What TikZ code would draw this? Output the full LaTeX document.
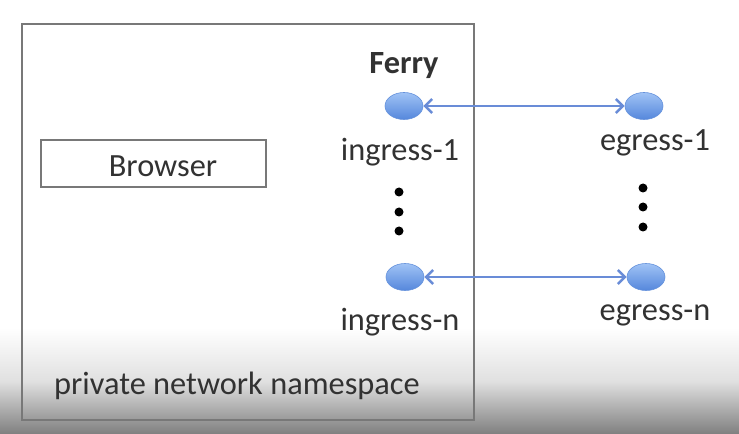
\documentclass[tikz,border=0pt]{standalone}
\usepackage{fontspec}
\setmainfont{Carlito}
\usetikzlibrary{shapes.geometric,arrows.meta}
\definecolor{boxgray}{RGB}{120,120,120}
\definecolor{txtgray}{RGB}{50,50,50}
\definecolor{blueA}{RGB}{160,195,245}
\definecolor{blueB}{RGB}{85,135,220}
\definecolor{blueEdge}{RGB}{100,145,220}
\definecolor{arrowblue}{RGB}{105,140,215}
\tikzset{
  lbl/.style={text=txtgray, font=\fontsize{32.5}{38}\selectfont, inner sep=0pt},
  port/.style={ellipse, draw=blueEdge, line width=0.6bp, top color=blueA, bottom color=blueB,
    minimum width=38bp, minimum height=27bp, inner sep=0pt},
  link/.style={draw=arrowblue, line width=2.6bp, {Straight Barb[length=7bp,width=14bp,line width=2.6bp]}-{Straight Barb[length=7bp,width=14bp,line width=2.6bp]}},
  vdot/.style={circle, fill=black, minimum size=9bp, inner sep=0pt},
  frame/.style={draw=boxgray, line width=2bp}
}
\begin{document}
\begin{tikzpicture}[x=1bp,y=-1bp]
\useasboundingbox (0,0) rectangle (739,434);
\fill[white] (0,0) rectangle (739,434);
\shade[top color=white, bottom color=black!50, middle color=black!12] (0,328) rectangle (739,434);
% outer namespace frame
\node[frame, minimum width=452bp, minimum height=396bp, inner sep=0pt] (ns) at (248,222) {};
\node[lbl, anchor=west] (nslbl) at (54,386) {private network namespace};
% browser
\node[frame, line width=1.6bp, minimum width=225bp, minimum height=47bp, inner sep=0pt] (br) at (153.5,163.5) {};
\node[lbl] (brlbl) at (163,166) {Browser};
% ferry
\node[lbl, font=\fontsize{32.5}{38}\selectfont\bfseries] (ferry) at (404,66) {Ferry};
\node[port] (in1) at (404,106) {};
\node[port] (eg1) at (644,106) {};
\node[port] (inn) at (405,277) {};
\node[port] (egn) at (646,277) {};
\node[lbl] (in1lbl) at (400,152) {ingress-1};
\node[lbl] (eg1lbl) at (655,143) {egress-1};
\node[lbl] (innlbl) at (400,322) {ingress-n};
\node[lbl] (egnlbl) at (655,315) {egress-n};
\draw[link] (in1) -- (eg1);
\draw[link] (inn) -- (egn);
% vertical ellipsis dots
\node[vdot] (d1) at (399,192) {};
\node[vdot] (d2) at (399,212) {};
\node[vdot] (d3) at (399,231) {};
\node[vdot] (e1) at (643,188) {};
\node[vdot] (e2) at (643,207) {};
\node[vdot] (e3) at (643,227) {};
\end{tikzpicture}
\end{document}
